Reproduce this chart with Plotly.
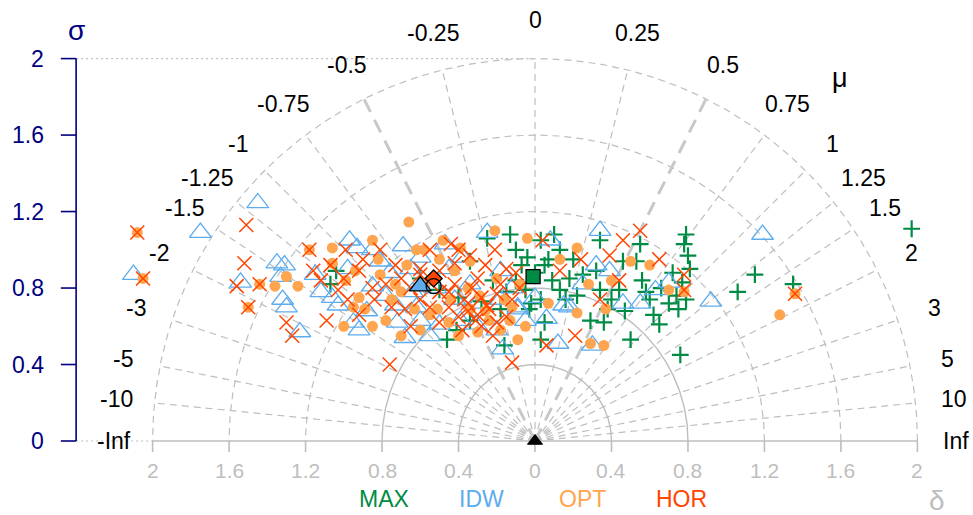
import numpy as np
import plotly.graph_objects as go

# ---------------- data ----------------
mu_values = [-np.inf, -10, -5, -3, -2, -1.5, -1.25, -1, -0.75, -0.5, -0.25, 0,
             0.25, 0.5, 0.75, 1, 1.25, 1.5, 2, 3, 5, 10, np.inf]
mu_labels = ["-Inf", "-10", "-5", "-3", "-2", "-1.5", "-1.25", "-1", "-0.75", "-0.5", "-0.25", "0",
             "0.25", "0.5", "0.75", "1", "1.25", "1.5", "2", "3", "5", "10", "Inf"]
delta_ticks = [-2, -1.6, -1.2, -0.8, -0.4, 0, 0.4, 0.8, 1.2, 1.6, 2]
delta_labels = ["2", "1.6", "1.2", "0.8", "0.4", "0", "0.4", "0.8", "1.2", "1.6", "2"]
sigma_ticks = [0, 0.4, 0.8, 1.2, 1.6, 2]
sigma_labels = ["0", "0.4", "0.8", "1.2", "1.6", "2"]
solid_radii = [0.4, 0.8]
dashed_radii = [1.2, 1.6, 2.0]

series_names = ["MAX", "IDW", "OPT", "HOR"]

max_x = [1.97, 1.35, 1.15, 1.06, 0.76, 0.79, 0.78, 0.80, 0.81, 0.77, 0.79, 0.74, 0.75, 0.62, 0.65,
         0.60, 0.66, 0.53, 0.55, 0.56, 0.46, 0.40, 0.38, 0.34, 0.32, 0.44, 0.50, 0.25, 0.13, 0.07,
         0.03, 0.05, 0.09, 0.16, 0.22, 0.29, 0.03, 0.10, 0.34, 0.03, 0.13,
         -1.07, -1.04, -0.50, -0.46, -0.41, -0.34, -0.25, -0.18, -0.16, -0.13, -0.10, -0.07, -0.04,
         -0.34, -0.05, -0.10, -0.03,
         -0.22, -0.28, -0.15, -0.02, 0.00, 0.05, 0.18, 0.20, 0.36, 0.47, 0.58, 0.70, 0.72, -0.60, -0.40]
max_y = [1.11, 0.82, 0.87, 0.78, 0.45, 1.08, 1.03, 0.97, 0.90, 0.83, 0.74, 0.76, 0.69, 0.66, 0.61,
         0.74, 0.80, 0.94, 1.03, 0.84, 0.94, 0.74, 0.69, 0.79, 0.89, 0.79, 0.53, 0.87, 1.00, 0.95,
         0.74, 0.62, 0.84, 0.74, 0.76, 0.63, 1.05, 1.08, 1.05, 0.53, 0.79,
         0.82, 0.89, 0.79, 0.53, 0.58, 0.94, 1.06, 0.69, 0.50, 1.08, 1.00, 0.92, 0.96,
         0.63, 0.79, 0.84, 0.69,
         0.84, 0.73, 0.78, 0.72, 0.88, 0.92, 0.85, 0.95, 0.62, 0.68, 0.78, 0.72, 0.88, 0.85, 0.75]

idw_x = [-2.10, -1.75, -1.45, -1.35, -1.31, -1.33, -1.54, -1.32, -1.30, -1.23, -1.15, -0.97, -0.93,
         -0.81, -0.69, -0.60, -0.47, -1.06, -1.03, -0.95, -0.92, -0.85, -0.73, -0.72, -0.68, -0.55,
         -0.60, -0.50, -0.42, -0.39, -0.31, -0.20, -0.18, -0.25, -0.09, -0.05, -0.18, -0.76, -0.64,
         -0.34, 1.19, 0.92, 0.70, 0.34, 0.08, -0.17, 0.12, 0.30, 0.06, 0.15, -0.09, 0.55, 0.46,
         0.32, 0.18, 0.39, 0.63,
         -0.88, -0.78, -0.65, -0.52, -0.45, -0.30, -0.12, -0.98, -0.85, -1.12, -0.62, -0.38, 0.00, 0.25]
idw_y = [0.87, 1.09, 1.245, 0.93, 0.92, 0.86, 0.83, 0.74, 0.70, 0.57, 0.87, 1.05, 1.01,
         0.94, 1.02, 0.96, 1.03, 0.75, 0.71, 0.62, 0.58, 0.81, 0.71, 0.62, 0.54, 0.55,
         0.63, 0.61, 0.74, 0.63, 0.61, 0.58, 0.74, 1.09, 0.70, 0.63, 0.89, 0.88, 0.78,
         0.82, 1.08, 0.73, 0.83, 1.10, 1.05, 0.48, 0.51, 0.50, 0.64, 0.71, 0.69, 0.72, 0.72,
         0.92, 0.70, 0.89, 0.79,
         0.68, 0.76, 0.90, 0.80, 0.90, 0.72, 0.80, 0.90, 1.00, 0.78, 0.70, 0.96, 0.75, 0.82]

opt_x = [-2.08, -2.05, -1.44, -1.50, -1.36, -1.30, -1.24, -1.18, -1.06, -1.06, -0.85, -0.66, -0.21,
         -0.04, -0.81, -0.73, -0.99, -0.94, -0.92, -0.89, -0.78, -0.75, -0.63, -0.60, -0.51, -0.44,
         -0.34, -0.29, -0.24, -0.18, -0.16, -0.08, -0.34, -0.42, -0.50, -0.58, -0.13, -0.09, -0.55,
         -0.39, 1.28, 1.36, 0.78, 0.70, 0.22, 0.29, 0.36, 0.07, 0.22, 0.37, 0.28, 0.13, 0.40, 0.50, 0.60,
         -0.30, -0.26, -0.35, -0.45, -0.70, -0.67, -0.82, -0.95, -1.00, -0.55, -0.20, -0.12, -0.05,
         -0.62, -0.48, -0.85, -0.70, -0.40]
opt_y = [1.09, 0.85, 0.82, 0.70, 0.81, 0.86, 0.81, 1.00, 1.01, 0.93, 1.05, 1.145, 1.10,
         1.06, 0.87, 0.82, 0.84, 0.89, 0.75, 0.69, 0.63, 0.74, 0.69, 0.58, 0.69, 0.74,
         0.69, 0.76, 0.63, 0.58, 0.74, 0.82, 0.94, 0.89, 0.95, 1.00, 0.63, 0.53, 0.84,
         1.01, 0.66, 0.77, 0.78, 0.79, 1.01, 0.51, 0.50, 0.72, 0.67, 0.69, 0.82, 0.95, 0.84, 0.94, 0.92,
         0.57, 0.68, 0.80, 0.62, 0.78, 0.92, 0.95, 0.70, 0.60, 0.66, 0.85, 0.70, 0.60,
         1.00, 1.05, 0.60, 0.55, 0.55]

hor_x = [-2.08, -2.05, -1.51, -1.52, -1.56, -1.44, -1.50, -1.30, -1.27, -1.18, -1.16, -1.12, -1.09,
         -1.07, -1.03, -0.98, -0.92, -0.84, -0.92, -0.78, -0.73, -0.68, -0.60, -0.55, -0.50, -0.42,
         -0.37, -0.31, -0.24, -0.18, -0.12, -0.76, -0.12, -0.44, -0.81, -0.99, -0.60, -0.34, -0.26,
         -0.21, -0.45, -0.30, -0.15, -0.35, -0.55, -0.20, -0.65, -0.42, -0.28, -0.08, -0.50, -0.38,
         1.36, 0.78, 0.78, 0.55, 0.46, 0.06, 0.21, 0.04, 0.34, 0.44, 0.13, 0.24, 0.39, 0.65,
         -0.35, -0.30, -0.25, -0.20, -0.28, -0.22, -0.40, -0.45, -0.60, -0.70, -0.75, -0.85, -0.90,
         -1.00, -0.65, -0.50, -0.15, -0.10, -0.33, -0.40]
hor_y = [1.09, 0.85, 1.13, 0.93, 0.81, 0.82, 0.70, 0.62, 0.55, 1.00, 0.89, 0.84, 0.63,
         0.92, 0.79, 0.74, 0.66, 0.74, 0.89, 0.82, 0.92, 0.69, 0.74, 1.00, 0.89, 0.82,
         0.74, 0.63, 0.69, 0.82, 0.74, 0.40, 0.41, 1.03, 1.00, 1.00, 0.87, 0.97, 0.92,
         1.00, 0.78, 0.85, 0.90, 0.68, 0.70, 0.62, 0.80, 0.93, 0.75, 0.80, 0.62, 0.58,
         0.77, 0.79, 0.87, 1.10, 1.05, 0.50, 0.55, 1.05, 0.74, 0.84, 0.89, 0.95, 0.97, 0.95,
         0.72, 0.66, 0.71, 0.77, 0.60, 0.55, 0.65, 0.70, 0.90, 0.85, 0.70, 0.80, 0.95,
         0.85, 0.60, 0.78, 0.65, 0.88, 0.80, 1.00]

# summary points (median of each method) and the reference point
summary_x = {"IDW": -0.60, "HOR": -0.53, "OPT": -0.53, "MAX": -0.01, "REF": 0.0}
summary_y = {"IDW": 0.81, "HOR": 0.85, "OPT": 0.81, "MAX": 0.86, "REF": 0.0}

# ---------------- styles ----------------
colors = {"MAX": "#008B45", "IDW": "#5CACEE", "OPT": "#FFA54F", "HOR": "#FF4500"}
grid_col = "#BEBEBE"
axis_col = "#000080"
FONT = "Liberation Sans, Arial, sans-serif"
DASH = "7px,5px"

fig = go.Figure()


def add_line(xs, ys, color=grid_col, width=1, dash="solid"):
    fig.add_trace(go.Scatter(x=xs, y=ys, mode="lines", hoverinfo="skip", showlegend=False,
                             line=dict(color=color, width=width, dash=dash)))


phi = np.linspace(0, np.pi, 361)
for r in solid_radii:
    add_line(r * np.cos(phi), r * np.sin(phi), width=1.4)
for r in dashed_radii:
    add_line(r * np.cos(phi), r * np.sin(phi), width=1.2, dash=DASH)

# rays of constant mu
for m in mu_values:
    if np.isinf(m):
        continue
    th = np.arctan(m)
    dx, dy = np.sin(th), np.cos(th)
    if abs(abs(m) - 0.5) < 1e-9:
        add_line([0, 2 * dx], [0, 2 * dy], color="#C8C8C8", width=3, dash="14px,9px")
    else:
        add_line([0, 2 * dx], [0, 2 * dy], width=1.2, dash=DASH)

# delta axis
add_line([-2, 2], [0, 0], width=1.6)
for t in delta_ticks:
    add_line([t, t], [0, -0.058], width=1.6)
add_line([-2.4, -2], [0, 0], width=1.2, dash="2px,3px")
add_line([-2.4, 0], [2, 2], width=1.2, dash="2px,3px")

# sigma axis
add_line([-2.4, -2.4], [0, 2], color=axis_col, width=1.6)
for t in sigma_ticks:
    add_line([-2.48, -2.4], [t, t], color=axis_col, width=1.6)

# scatter series
sym = {"MAX": "cross-thin", "IDW": "triangle-up-open", "OPT": "circle", "HOR": "x-thin"}
sizes = {"MAX": 12, "IDW": 19, "OPT": 11, "HOR": 14}
data = {"MAX": (max_x, max_y), "IDW": (idw_x, idw_y), "OPT": (opt_x, opt_y), "HOR": (hor_x, hor_y)}
for name in series_names:
    xs, ys = data[name]
    c = colors[name]
    if name == "OPT":
        mk = dict(symbol="circle", size=sizes[name], color=c, line=dict(width=0))
    elif name == "IDW":
        mk = dict(symbol=sym[name], size=sizes[name], color=c, line=dict(width=1.3, color=c))
    else:
        mk = dict(symbol=sym[name], size=sizes[name], color=c,
                  line=dict(width=2.2 if name == "MAX" else 1.5, color=c))
    fig.add_trace(go.Scatter(x=xs, y=ys, mode="markers", marker=mk, showlegend=False, name=name))

# summary markers
fig.add_trace(go.Scatter(x=[summary_x["IDW"]], y=[summary_y["IDW"]], mode="markers", showlegend=False,
                         marker=dict(symbol="triangle-up", size=19, color=colors["IDW"],
                                     line=dict(color="black", width=1.3))))
fig.add_trace(go.Scatter(x=[summary_x["HOR"]], y=[summary_y["HOR"]], mode="markers", showlegend=False,
                         marker=dict(symbol="diamond", size=13, color=colors["HOR"],
                                     line=dict(color="black", width=1.3))))
fig.add_trace(go.Scatter(x=[summary_x["OPT"]], y=[summary_y["OPT"]], mode="markers", showlegend=False,
                         marker=dict(symbol="circle-open", size=15, color="black",
                                     line=dict(color="black", width=1.3))))
fig.add_trace(go.Scatter(x=[summary_x["MAX"]], y=[summary_y["MAX"]], mode="markers", showlegend=False,
                         marker=dict(symbol="square", size=14, color=colors["MAX"],
                                     line=dict(color="black", width=1.3))))
fig.add_trace(go.Scatter(x=[summary_x["REF"]], y=[summary_y["REF"]], mode="markers", showlegend=False,
                         marker=dict(symbol="triangle-up", size=13, color="black",
                                     line=dict(color="black", width=1))))

# ---------------- text ----------------
ann = []
R_LAB = 2.2
for m, lab in zip(mu_values, mu_labels):
    th = np.arctan(m) if not np.isinf(m) else np.sign(m) * np.pi / 2
    ann.append(dict(x=R_LAB * np.sin(th), y=R_LAB * np.cos(th), text=lab, showarrow=False,
                    font=dict(family=FONT, size=23, color="black"), xanchor="center", yanchor="middle"))
for t, lab in zip(delta_ticks, delta_labels):
    ann.append(dict(x=t, y=-0.154, text=lab, showarrow=False,
                    font=dict(family=FONT, size=21, color=grid_col), xanchor="center", yanchor="middle"))
for t, lab in zip(sigma_ticks, sigma_labels):
    ann.append(dict(x=-2.56, y=t, text=lab, showarrow=False,
                    font=dict(family=FONT, size=23, color=axis_col), xanchor="right", yanchor="middle"))
ann.append(dict(x=-2.40, y=2.147, text="σ", showarrow=False,
                font=dict(family=FONT, size=28, color=axis_col), xanchor="center", yanchor="middle"))
ann.append(dict(x=1.595, y=1.90, text="μ", showarrow=False,
                font=dict(family=FONT, size=27, color="black"), xanchor="center", yanchor="middle"))
ann.append(dict(x=2.10, y=-0.31, text="δ", showarrow=False,
                font=dict(family=FONT, size=28, color=grid_col), xanchor="center", yanchor="middle"))
legend_x = [-0.79, -0.28, 0.246, 0.764]
for name, lx in zip(series_names, legend_x):
    ann.append(dict(x=lx, y=-0.305, text=name, showarrow=False,
                    font=dict(family=FONT, size=23, color=colors[name]), xanchor="center", yanchor="middle"))

PX = 191.2
fig.update_layout(
    width=973, height=515,
    margin=dict(l=0, r=0, t=0, b=0),
    paper_bgcolor="white", plot_bgcolor="white",
    xaxis=dict(range=[-535 / PX, (973 - 535) / PX], visible=False, fixedrange=True),
    yaxis=dict(range=[(441 - 515) / PX, 441 / PX], visible=False, fixedrange=True),
    annotations=ann,
    showlegend=False,
)
fig.write_html("out.html")
